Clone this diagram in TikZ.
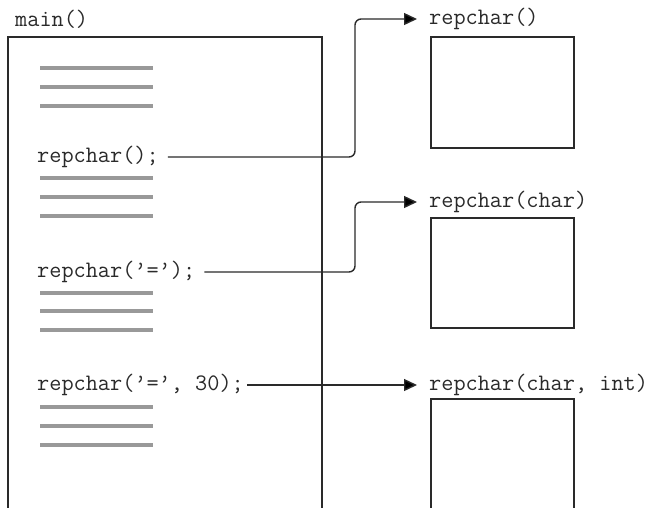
\documentclass[tikz,border=0pt]{standalone}
\usepackage{fontspec}
\usetikzlibrary{arrows.meta}
\definecolor{ln}{HTML}{2A2A2A}
\definecolor{bar}{HTML}{999999}
\tikzset{
  code/.style={font=\ttfamily\fontsize{23.6}{25}\selectfont, text=ln, inner sep=0pt, anchor=west},
  flabel/.style={code, inner xsep=12pt, inner ysep=2pt},
  frame/.style={draw=ln, line width=1.4pt},
  bars/.style={draw=bar, line width=4pt},
  conn/.style={draw=ln, line width=1.4pt, rounded corners=6pt, -{Triangle[length=13pt,width=12pt,fill=black]}},
}
\begin{document}
\begin{tikzpicture}[x=1pt,y=-1pt]
\useasboundingbox (0,0) rectangle (653,507);
% main frame (open at bottom)
\draw[frame] (8,508) -- (8,37) -- (322,37) -- (322,508);
% function boxes
\draw[frame] (431,37) rectangle (574,148);
\draw[frame] (431,218) rectangle (574,328);
\draw[frame] (431,508) -- (431,399) -- (574,399) -- (574,508);
% grey code lines
\foreach \y in {68,87,106, 178,197,216, 293,311,330, 407,426,445}
  \draw[bars] (40,\y) -- (153,\y);
% texts
\node[code] (main) at (15,19) {main()};
\node[code] (call1) at (37,157) {repchar();};
\node[code] (call2) at (37,272) {repchar(’=’);};
\node[code] (call3) at (37,385) {repchar(’=’, 30);};
\node[flabel] (f1) at (417,19) {repchar()};
\node[flabel] (f2) at (417,202) {repchar(char)};
\node[flabel] (f3) at (417,385) {repchar(char, int)};
% connectors
\coordinate (b1) at (355,19);
\coordinate (b2) at (355,202);
\draw[conn] ([xshift=9pt]call1.east) -| (b1) -- (f1.west);
\draw[conn] ([xshift=9pt]call2.east) -| (b2) -- (f2.west);
\draw[conn] ([xshift=3pt]call3.east) -- (f3.west);
\end{tikzpicture}
\end{document}
